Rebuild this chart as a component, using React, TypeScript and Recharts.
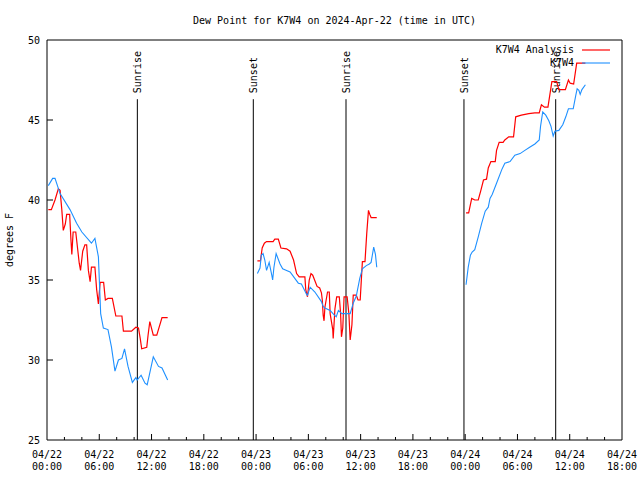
import { Legend, Line, LineChart, ReferenceLine, XAxis, YAxis } from "recharts";

// hours since 04/22 00:00 UTC, dew point in °F
const analysis1: [number, number][] = [
  [0.15, 39.4], [0.5, 39.4], [0.92, 40.0], [1.3, 40.7], [1.5, 40.6], [1.7, 39.4], [1.87, 38.1], [2.1, 38.5],
  [2.26, 39.1], [2.6, 39.1], [2.75, 37.5], [2.85, 36.6], [3.0, 38.0], [3.3, 38.0], [3.7, 36.05], [3.85, 35.6],
  [4.1, 36.8], [4.35, 37.2], [4.55, 37.2], [4.75, 35.6], [4.95, 34.9], [5.1, 35.8], [5.5, 35.8], [5.7, 34.4],
  [5.9, 33.5], [6.1, 34.85], [6.5, 34.85], [6.7, 33.75], [7.0, 33.85], [7.5, 33.85], [7.9, 32.75], [8.6, 32.75],
  [8.77, 31.8], [9.7, 31.8], [10.2, 32.05], [10.5, 32.0], [10.7, 31.35], [10.87, 30.7], [11.45, 30.8],
  [11.6, 31.55], [11.8, 32.4], [12.2, 31.55], [12.6, 31.55], [13.2, 32.65], [13.85, 32.65],
];
const analysis2: [number, number][] = [
  [24.15, 36.2], [24.5, 36.2], [24.7, 37.0], [24.95, 37.3], [25.2, 37.4], [25.95, 37.4], [26.15, 37.55],
  [26.55, 37.55], [26.85, 37.0], [27.5, 36.95], [27.9, 36.8], [28.3, 36.25], [28.65, 35.4], [28.95, 35.2],
  [29.6, 35.2], [29.7, 34.4], [29.9, 33.95], [30.1, 35.0], [30.3, 35.4], [30.5, 35.3], [31.0, 34.6],
  [31.3, 34.5], [31.5, 34.2], [31.6, 33.75], [31.7, 32.8], [31.8, 32.45], [31.9, 33.3], [32.2, 34.25],
  [32.4, 34.25], [32.5, 32.9], [32.8, 31.9], [32.85, 31.35], [33.05, 33.2], [33.25, 33.95], [33.55, 33.95],
  [33.7, 32.9], [33.8, 31.45], [33.95, 32.0], [34.1, 33.95], [34.45, 33.95], [34.65, 32.9], [34.8, 31.25],
  [35.0, 32.2], [35.15, 34.05], [35.5, 34.05], [35.7, 33.75], [35.95, 33.75], [36.2, 36.15], [36.5, 36.15],
  [36.7, 37.9], [36.9, 39.35], [37.05, 39.1], [37.2, 38.9], [37.85, 38.9],
];
const analysis3: [number, number][] = [
  [48.1, 39.2], [48.4, 39.2], [48.75, 40.1], [49.1, 40.0], [49.5, 40.0], [49.8, 40.6], [50.1, 41.25],
  [50.45, 41.3], [50.65, 42.0], [50.95, 42.4], [51.45, 42.4], [51.6, 43.1], [51.9, 43.6], [52.35, 43.6],
  [52.55, 43.75], [53.0, 43.95], [53.55, 43.95], [53.8, 45.2], [54.45, 45.3], [55.3, 45.4], [56.0, 45.45],
  [56.5, 45.45], [56.75, 45.95], [57.1, 45.8], [57.5, 45.8], [57.95, 47.4], [58.5, 47.4], [58.75, 46.9],
  [59.5, 46.9], [59.85, 47.5], [60.05, 47.3], [60.45, 47.25], [60.8, 48.55], [61.8, 48.55],
];
const observed1: [number, number][] = [
  [0.15, 40.9], [0.65, 41.35], [0.92, 41.35], [1.5, 40.4], [2.64, 39.4], [3.4, 38.55], [4.0, 38.0],
  [5.1, 37.3], [5.5, 37.6], [5.9, 36.45], [6.16, 32.9], [6.47, 32.0], [7.0, 31.9], [7.4, 30.8], [7.8, 29.3],
  [8.2, 30.0], [8.6, 30.1], [8.9, 30.7], [9.3, 29.6], [9.8, 28.6], [10.2, 28.9], [10.35, 28.75],
  [10.8, 29.05], [11.25, 28.55], [11.5, 28.45], [12.2, 30.2], [12.8, 29.6], [13.2, 29.5], [13.85, 28.75],
];
const observed2: [number, number][] = [
  [24.15, 35.4], [24.45, 35.75], [24.6, 36.55], [24.8, 36.65], [25.0, 36.25], [25.2, 35.6], [25.5, 36.1],
  [25.8, 35.3], [25.9, 35.0], [26.05, 35.8], [26.3, 36.65], [26.75, 36.0], [27.05, 35.7], [27.5, 35.6],
  [27.9, 35.5], [28.85, 34.8], [29.2, 34.75], [29.8, 34.1], [29.9, 34.05], [30.2, 34.55], [30.75, 34.25],
  [31.5, 33.65], [31.7, 33.35], [31.9, 33.25], [32.5, 33.1], [32.9, 32.85], [33.2, 32.7], [33.45, 33.1],
  [33.85, 32.9], [34.8, 32.9], [35.15, 33.55], [35.5, 34.0], [35.9, 35.1], [36.2, 35.7], [36.65, 35.9],
  [37.0, 36.0], [37.2, 36.1], [37.5, 37.05], [37.7, 36.6], [37.85, 35.8],
];
const observed3: [number, number][] = [
  [48.1, 34.7], [48.35, 35.8], [48.6, 36.55], [48.8, 36.75], [49.1, 36.9], [49.5, 37.7], [49.9, 38.55],
  [50.3, 39.3], [50.65, 39.55], [50.85, 40.1], [51.1, 40.35], [51.6, 41.05], [52.2, 41.9], [52.55, 42.3],
  [53.15, 42.4], [53.7, 42.8], [54.3, 42.9], [54.85, 43.1], [55.4, 43.3], [56.0, 43.5], [56.5, 43.75],
  [56.65, 44.6], [56.9, 45.5], [57.25, 45.3], [57.6, 44.95], [57.85, 44.6], [58.1, 44.0], [58.3, 44.3],
  [58.75, 44.35], [59.2, 44.7], [59.55, 45.2], [59.85, 45.7], [60.4, 45.7], [60.7, 46.55], [60.85, 46.95],
  [61.05, 46.85], [61.2, 46.6], [61.4, 46.9], [61.8, 47.2],
];

const sunTimes = [10.37, 23.68, 34.32, 47.86, 58.39];
const sunEvents = ["Sunrise", "Sunset", "Sunrise", "Sunset", "Sunrise"];

const xTicks = [0, 2, 4, 6, 8, 10, 12, 14, 16, 18, 20, 22, 24, 26, 28, 30, 32, 34, 36, 38, 40, 42, 44, 46, 48, 50, 52, 54, 56, 58, 60, 62, 64, 66];
const tickDates = ["04/22", "04/22", "04/22", "04/22", "04/23", "04/23", "04/23", "04/23", "04/24", "04/24", "04/24", "04/24"];
const tickHours = ["00:00", "06:00", "12:00", "18:00", "00:00", "06:00", "12:00", "18:00", "00:00", "06:00", "12:00", "18:00"];
const yTicks = [25, 30, 35, 40, 45, 50];

const FONT = "'DejaVu Sans Mono', monospace";

const toRows = (...segments: [number, number][][]) =>
  segments.flatMap((seg, i) => {
    const rows = seg.map(([t, v]) => ({ t, v }));
    return i < segments.length - 1 ? [...rows, { t: seg[seg.length - 1][0] + 1, v: null }] : rows;
  });

const analysisData = toRows(analysis1, analysis2, analysis3);
const observedData = toRows(observed1, observed2, observed3);

function BottomTick({ x, y, payload }: any) {
  const v = payload.value as number;
  const major = v % 6 === 0;
  const i = v / 6;
  return (
    <g>
      {v > 0 && v < 66 && <line x1={x} x2={x} y1={y} y2={y - (major ? 6 : 3)} stroke="#000" />}
      {major && (
        <text x={x} y={y + 18} textAnchor="middle" fontFamily={FONT} fontSize={10} fill="#000">
          <tspan x={x}>{tickDates[i]}</tspan>
          <tspan x={x} dy={12}>{tickHours[i]}</tspan>
        </text>
      )}
    </g>
  );
}

function TopTick({ x, y, payload }: any) {
  const v = payload.value as number;
  if (v <= 0 || v >= 66) return <g />;
  return <line x1={x} x2={x} y1={y} y2={y + (v % 6 === 0 ? 6 : 3)} stroke="#000" />;
}

function LeftTick({ x, y, payload }: any) {
  const v = payload.value as number;
  return (
    <g>
      {v > 25 && v < 50 && <line x1={x} x2={x + 6} y1={y} y2={y} stroke="#000" />}
      <text x={x - 7} y={y + 4} textAnchor="end" fontFamily={FONT} fontSize={10} fill="#000">
        {v}
      </text>
    </g>
  );
}

function RightTick({ x, y, payload }: any) {
  const v = payload.value as number;
  if (v <= 25 || v >= 50) return <g />;
  return <line x1={x} x2={x - 6} y1={y} y2={y} stroke="#000" />;
}

function SunLabel({ viewBox, text }: any) {
  const x = viewBox.x + 4;
  const y = viewBox.y - 6;
  return (
    <text x={x} y={y} transform={`rotate(-90 ${x} ${y})`} fontFamily={FONT} fontSize={10} fill="#000">
      {text}
    </text>
  );
}

function AxisTitle({ viewBox }: any) {
  const x = 13;
  const y = viewBox.y + viewBox.height / 2;
  return (
    <text x={x} y={y} transform={`rotate(-90 ${x} ${y})`} textAnchor="middle" fontFamily={FONT} fontSize={10} fill="#000">
      degrees F
    </text>
  );
}

function KeyBox() {
  return (
    <svg width={130} height={30} style={{ display: "block" }}>
      <text x={84} y={13} textAnchor="end" fontFamily={FONT} fontSize={10} fill="#000">K7W4 Analysis</text>
      <line x1={92} x2={120} y1={10} y2={10} stroke="#ff0000" strokeWidth={1.2} />
      <text x={84} y={26} textAnchor="end" fontFamily={FONT} fontSize={10} fill="#000">K7W4</text>
      <line x1={92} x2={120} y1={23} y2={23} stroke="#1e90ff" strokeWidth={1.1} />
    </svg>
  );
}

export default function App() {
  return (
    <div style={{ position: "absolute", left: 0, top: 0, width: 640, height: 480, background: "#fff" }}>
      <svg width={640} height={30} style={{ position: "absolute", left: 0, top: 0 }}>
        <text x={334.5} y={24} textAnchor="middle" fontFamily={FONT} fontSize={10} fill="#000">
          Dew Point for K7W4 on 2024-Apr-22 (time in UTC)
        </text>
      </svg>
      <LineChart width={640} height={480} margin={{ top: 0, right: 0, bottom: 0, left: 0 }}>
        <XAxis
          dataKey="t"
          type="number"
          domain={[0, 66]}
          ticks={xTicks}
          interval={0}
          height={40}
          tickSize={0}
          tickMargin={0}
          tick={<BottomTick />}
          axisLine={{ stroke: "#000" }}
          allowDataOverflow
        />
        <XAxis
          xAxisId="top"
          orientation="top"
          dataKey="t"
          type="number"
          domain={[0, 66]}
          ticks={xTicks}
          interval={0}
          height={40}
          tickSize={0}
          tickMargin={0}
          tick={<TopTick />}
          axisLine={{ stroke: "#000" }}
        />
        <YAxis
          type="number"
          domain={[25, 50]}
          ticks={yTicks}
          interval={0}
          width={47}
          tickSize={0}
          tickMargin={0}
          tick={<LeftTick />}
          axisLine={{ stroke: "#000" }}
          label={<AxisTitle />}
          allowDataOverflow
        />
        <YAxis
          yAxisId="right"
          orientation="right"
          type="number"
          domain={[25, 50]}
          ticks={yTicks}
          interval={0}
          width={18}
          tickSize={0}
          tickMargin={0}
          tick={<RightTick />}
          axisLine={{ stroke: "#000" }}
        />
        {sunTimes.map((t, i) => (
          <ReferenceLine
            key={i}
            segment={[{ x: t, y: 25 }, { x: t, y: 46.3 }]}
            stroke="#000"
            strokeWidth={1}
            label={<SunLabel text={sunEvents[i]} />}
          />
        ))}
        <Line
          data={analysisData}
          dataKey="v"
          name="K7W4 Analysis"
          type="linear"
          stroke="#ff0000"
          strokeWidth={1.2}
          dot={false}
          activeDot={false}
          isAnimationActive={false}
        />
        <Line
          data={observedData}
          dataKey="v"
          name="K7W4"
          type="linear"
          stroke="#1e90ff"
          strokeWidth={1.1}
          dot={false}
          activeDot={false}
          isAnimationActive={false}
        />
        <Legend
          layout="vertical"
          align="center"
          verticalAlign="middle"
          content={() => <KeyBox />}
          wrapperStyle={{ left: 490, top: 40, width: 130 }}
        />
      </LineChart>
    </div>
  );
}
